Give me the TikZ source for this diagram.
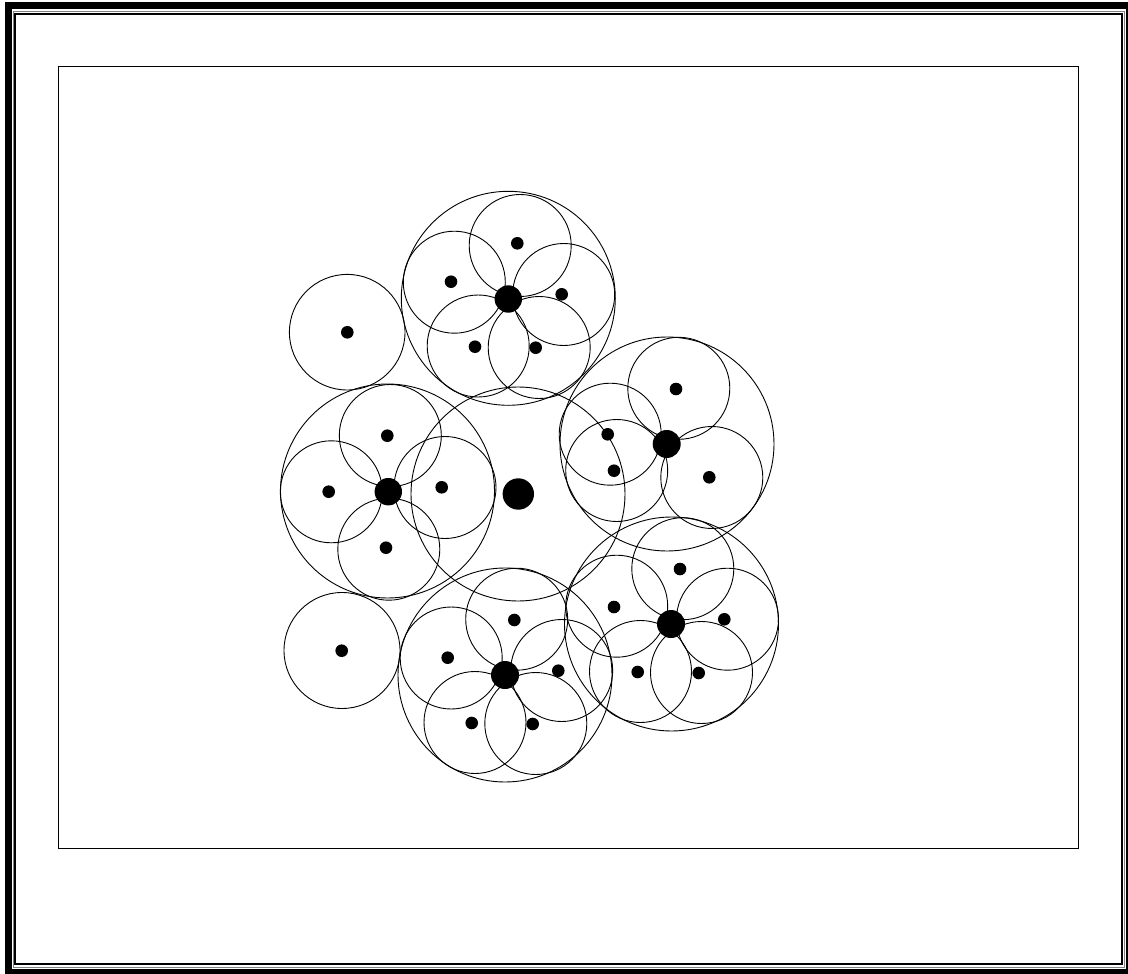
\documentclass[tikz,border=0pt]{standalone}
\usepackage{tikz}
\begin{document}
\begin{tikzpicture}[x=1pt, y=-1pt,
		ring/.style={line width=0.9pt},
		hub/.style={fill=black},
		spot/.style={fill=black}]
	\useasboundingbox (0,0) rectangle (1128,974);
	\fill [white] (0,0) rectangle (1128,974);
	% frame
	\draw [line width=7pt] (8.5,6) rectangle (1129.8,972.5);
	\draw [line width=1pt, gray] (13.2,11.2) rectangle (1124.7,967.2);
	\draw [line width=1.7pt] (15.3,13.7) rectangle (1122.2,964.2);
	\draw [line width=0.9pt] (58.3,66.3) rectangle (1078,848);
	% top cluster
	\draw [ring] (508.3,298.3) circle (107pt);
	\draw [ring] (520.2,245.5) circle (51pt);
	\draw [ring] (454.3,282.2) circle (51pt);
	\draw [ring] (563.7,294.5) circle (51pt);
	\draw [ring] (478.2,346) circle (51pt);
	\draw [ring] (539.2,347.5) circle (51pt);
	\fill [hub] (508.3,299) circle (13.7pt);
	\fill [spot] (517.3,243.3) circle (6.3pt);
	\fill [spot] (451,281.7) circle (6.3pt);
	\fill [spot] (561.7,294.3) circle (6.3pt);
	\fill [spot] (475,346.7) circle (6.3pt);
	\fill [spot] (535.7,347.7) circle (6.3pt);
	% left cluster
	\draw [ring] (387.5,491) circle (107pt);
	\draw [ring] (390.3,435.5) circle (51pt);
	\draw [ring] (331.3,491.8) circle (51pt);
	\draw [ring] (445,487.5) circle (51pt);
	\draw [ring] (388.8,549.2) circle (51pt);
	\fill [hub] (388.3,491.7) circle (13.7pt);
	\fill [spot] (387.3,435.7) circle (6.3pt);
	\fill [spot] (328.7,491.7) circle (6.3pt);
	\fill [spot] (441.7,487.3) circle (6.3pt);
	\fill [spot] (386,547.7) circle (6.3pt);
	% centre
	\draw [ring] (518,494) circle (107pt);
	\fill [hub] (518.3,494) circle (15.7pt);
	% right cluster, upper
	\draw [ring] (667,444) circle (107pt);
	\draw [ring] (678.8,388.3) circle (51pt);
	\draw [ring] (711.8,477.5) circle (51pt);
	\draw [ring] (610.2,434.2) circle (51pt);
	\draw [ring] (616.7,470.5) circle (51pt);
	\fill [hub] (666.7,444) circle (14pt);
	\fill [spot] (676,389) circle (6.3pt);
	\fill [spot] (607.7,434.3) circle (6.3pt);
	\fill [spot] (614,470.7) circle (6.3pt);
	\fill [spot] (709.3,477.3) circle (6.3pt);
	% right cluster, lower
	\draw [ring] (671.5,624) circle (107pt);
	\draw [ring] (682.8,568.7) circle (51pt);
	\draw [ring] (616.7,606.2) circle (51pt);
	\draw [ring] (727.5,619.2) circle (51pt);
	\draw [ring] (640.5,671.5) circle (51pt);
	\draw [ring] (701.5,672.5) circle (51pt);
	\fill [hub] (671,624) circle (14pt);
	\fill [spot] (680,569) circle (6.3pt);
	\fill [spot] (614,607) circle (6.3pt);
	\fill [spot] (724.3,619.3) circle (6.3pt);
	\fill [spot] (637.7,672) circle (6.3pt);
	\fill [spot] (698.7,673) circle (6.3pt);
	% bottom cluster
	\draw [ring] (505,675) circle (107pt);
	\draw [ring] (516.7,619.2) circle (51pt);
	\draw [ring] (451.2,658) circle (51pt);
	\draw [ring] (561.7,670.5) circle (51pt);
	\draw [ring] (475,722.5) circle (51pt);
	\draw [ring] (535.8,723.5) circle (51pt);
	\fill [hub] (505,675) circle (14pt);
	\fill [spot] (514.3,620) circle (6.3pt);
	\fill [spot] (447.7,657.7) circle (6.3pt);
	\fill [spot] (558.3,670.7) circle (6.3pt);
	\fill [spot] (471.7,723) circle (6.3pt);
	\fill [spot] (532.7,724) circle (6.3pt);
	% single circles
	\draw [ring] (347.2,332.2) circle (57.8pt);
	\fill [spot] (347.3,332.3) circle (6.3pt);
	\draw [ring] (342,650.5) circle (58pt);
	\fill [spot] (341.7,650.7) circle (6.3pt);
\end{tikzpicture}
\end{document}
